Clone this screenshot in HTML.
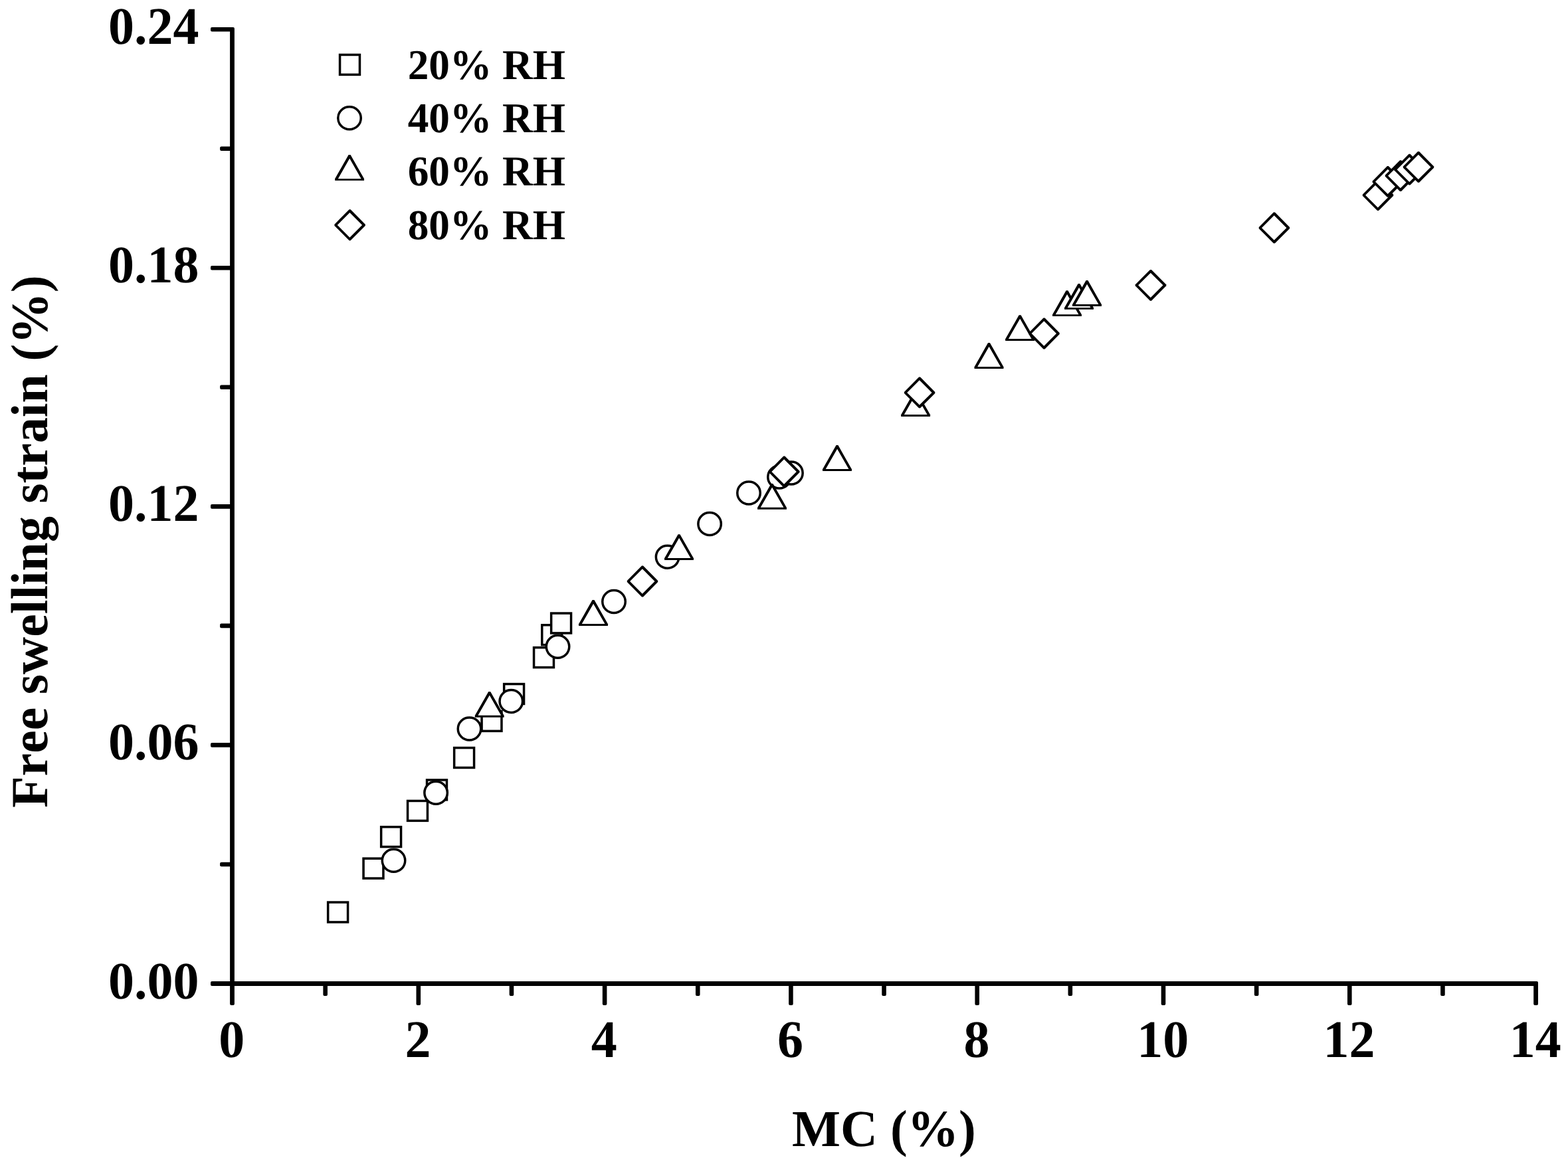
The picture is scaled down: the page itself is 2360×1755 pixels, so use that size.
<!DOCTYPE html>
<html lang="en"><head><meta charset="utf-8"><title>Free swelling strain vs MC</title>
<style>
html,body{margin:0;padding:0;background:#fff;}
body{width:2360px;height:1755px;overflow:hidden;}
svg{display:block;}
text{font-family:"Liberation Serif","Times New Roman",Times,serif;font-weight:bold;fill:#000;white-space:pre;font-kerning:none;font-variant-ligatures:none;text-rendering:geometricPrecision;}
.sq{fill:#fff;stroke:#000;stroke-width:3.5;}.ci{fill:#fff;stroke:#000;stroke-width:3.5;}.k{fill:#000;}.w{fill:#fff;}
.tl{font-size:78px;}
.xt{font-size:77.3px;}
.yt{font-size:77.8px;}
.lg{font-size:63.3px;}
</style></head><body>
<svg width="2360" height="1755" viewBox="0 0 2360 1755">
<rect x="0" y="0" width="2360" height="1755" fill="#fff"/>
<g fill="#000">
<rect x="317" y="1477.1" width="1998" height="6.8" rx="2"/>
<rect x="346.1" y="41" width="6.8" height="1472" rx="2"/>
<rect x="486.35" y="1480.5" width="6.6" height="18.4" rx="2"/>
<rect x="626.5" y="1480.5" width="6.6" height="32.5" rx="2"/>
<rect x="766.65" y="1480.5" width="6.6" height="18.4" rx="2"/>
<rect x="906.8" y="1480.5" width="6.6" height="32.5" rx="2"/>
<rect x="1046.95" y="1480.5" width="6.6" height="18.4" rx="2"/>
<rect x="1187.1" y="1480.5" width="6.6" height="32.5" rx="2"/>
<rect x="1327.25" y="1480.5" width="6.6" height="18.4" rx="2"/>
<rect x="1467.4" y="1480.5" width="6.6" height="32.5" rx="2"/>
<rect x="1607.55" y="1480.5" width="6.6" height="18.4" rx="2"/>
<rect x="1747.7" y="1480.5" width="6.6" height="32.5" rx="2"/>
<rect x="1887.85" y="1480.5" width="6.6" height="18.4" rx="2"/>
<rect x="2028" y="1480.5" width="6.6" height="32.5" rx="2"/>
<rect x="2168.15" y="1480.5" width="6.6" height="18.4" rx="2"/>
<rect x="2308.2" y="1480.5" width="6.8" height="32.5" rx="2"/>
<rect x="331.1" y="1297.66" width="18.4" height="6.6" rx="2"/>
<rect x="317" y="1118.12" width="32.5" height="6.6" rx="2"/>
<rect x="331.1" y="938.59" width="18.4" height="6.6" rx="2"/>
<rect x="317" y="759.05" width="32.5" height="6.6" rx="2"/>
<rect x="331.1" y="579.51" width="18.4" height="6.6" rx="2"/>
<rect x="317" y="399.98" width="32.5" height="6.6" rx="2"/>
<rect x="331.1" y="220.44" width="18.4" height="6.6" rx="2"/>
<rect x="317" y="40.9" width="32.5" height="6.6" rx="2"/>
</g>
<g>
<text class="tl" text-anchor="middle" transform="translate(348.7 1590.9) scale(1 1.02)">0</text>
<text class="tl" text-anchor="middle" transform="translate(629 1590.9) scale(1 1.02)">2</text>
<text class="tl" text-anchor="middle" transform="translate(909.3 1590.9) scale(1 1.02)">4</text>
<text class="tl" text-anchor="middle" transform="translate(1189.6 1590.9) scale(1 1.02)">6</text>
<text class="tl" text-anchor="middle" transform="translate(1469.9 1590.9) scale(1 1.02)">8</text>
<text class="tl" text-anchor="middle" transform="translate(1750.2 1590.9) scale(1 1.02)">10</text>
<text class="tl" text-anchor="middle" transform="translate(2030.5 1590.9) scale(1 1.02)">12</text>
<text class="tl" text-anchor="middle" transform="translate(2310.8 1590.9) scale(1 1.02)">14</text>
<text class="tl" text-anchor="end" transform="translate(299.4 1502.5) scale(1 1.02)">0.00</text>
<text class="tl" text-anchor="end" transform="translate(299.4 1143.42) scale(1 1.02)">0.06</text>
<text class="tl" text-anchor="end" transform="translate(299.4 784.35) scale(1 1.02)">0.12</text>
<text class="tl" text-anchor="end" transform="translate(299.4 425.28) scale(1 1.02)">0.18</text>
<text class="tl" text-anchor="end" transform="translate(299.4 66.2) scale(1 1.02)">0.24</text>
</g>
<text class="xt" text-anchor="middle" transform="translate(1330.4 1724.7) scale(1 1.01)">MC (%)</text>
<text class="yt" text-anchor="middle" transform="translate(71 815) rotate(-90) scale(1 1.01)">Free swelling strain (%)</text>
<g>
<rect class="sq" x="511.55" y="82.45" width="29.9" height="29.9"/>
<ellipse class="ci" cx="526" cy="177.8" rx="17.25" ry="17"/>
<polygon class="k" points="524.65,233 527.55,233 548.05,269.1 548.05,271.8 504.15,271.8 504.15,269.1"/><polygon class="w" points="526.2,238.6 543.55,268.9 508.85,268.9"/>
<polygon class="k" points="525.6,315.3 527.6,315.3 549.8,337.7 549.8,339.7 527.6,362.1 525.6,362.1 503.4,339.7 503.4,337.7"/><polygon class="w" points="526.4,320 545.1,338.7 526.4,357.4 507.7,338.7"/>
</g>
<g>
<text class="lg" transform="translate(613.7 118.5) scale(1 1.01)">20% RH</text>
<text class="lg" transform="translate(613.7 198.9) scale(1 1.01)">40% RH</text>
<text class="lg" transform="translate(613.7 279.3) scale(1 1.01)">60% RH</text>
<text class="lg" transform="translate(613.7 359.7) scale(1 1.01)">80% RH</text>
</g>
<g>
<rect class="sq" x="493.65" y="1358.05" width="29.9" height="29.9"/>
<rect class="sq" x="547.05" y="1292.15" width="29.9" height="29.9"/>
<rect class="sq" x="573.65" y="1244.65" width="29.9" height="29.9"/>
<rect class="sq" x="613.55" y="1205.45" width="29.9" height="29.9"/>
<rect class="sq" x="642.55" y="1173.95" width="29.9" height="29.9"/>
<rect class="sq" x="683.65" y="1125.55" width="29.9" height="29.9"/>
<rect class="sq" x="725.05" y="1070.45" width="29.9" height="29.9"/>
<rect class="sq" x="758.65" y="1029.55" width="29.9" height="29.9"/>
<rect class="sq" x="803.55" y="974.65" width="29.9" height="29.9"/>
<rect class="sq" x="815.75" y="940.75" width="29.9" height="29.9"/>
<rect class="sq" x="829.65" y="923.05" width="29.9" height="29.9"/>
<ellipse class="ci" cx="592.5" cy="1295.2" rx="17.25" ry="17"/>
<ellipse class="ci" cx="656.1" cy="1193.2" rx="17.25" ry="17"/>
<ellipse class="ci" cx="706.5" cy="1097" rx="17.25" ry="17"/>
<ellipse class="ci" cx="769.3" cy="1055.4" rx="17.25" ry="17"/>
<ellipse class="ci" cx="839.5" cy="973.3" rx="17.25" ry="17"/>
<ellipse class="ci" cx="924" cy="905.5" rx="17.25" ry="17"/>
<ellipse class="ci" cx="1004.6" cy="838.2" rx="17.25" ry="17"/>
<ellipse class="ci" cx="1068.1" cy="788.4" rx="17.25" ry="17"/>
<ellipse class="ci" cx="1127" cy="741.9" rx="17.25" ry="17"/>
<ellipse class="ci" cx="1173" cy="717.9" rx="17.25" ry="17"/>
<ellipse class="ci" cx="1190.9" cy="711.9" rx="17.25" ry="17"/>
<polygon class="k" points="735.25,1040.9 738.15,1040.9 758.65,1077 758.65,1079.7 714.75,1079.7 714.75,1077"/><polygon class="w" points="736.8,1046.5 754.15,1076.8 719.45,1076.8"/>
<polygon class="k" points="891.55,903.1 894.45,903.1 914.95,939.2 914.95,941.9 871.05,941.9 871.05,939.2"/><polygon class="w" points="893.1,908.7 910.45,939 875.75,939"/>
<polygon class="k" points="1020.55,804.2 1023.45,804.2 1043.95,840.3 1043.95,843 1000.05,843 1000.05,840.3"/><polygon class="w" points="1022.1,809.8 1039.45,840.1 1004.75,840.1"/>
<polygon class="k" points="1160.55,727.95 1163.45,727.95 1183.95,764.05 1183.95,766.75 1140.05,766.75 1140.05,764.05"/><polygon class="w" points="1162.1,733.55 1179.45,763.85 1144.75,763.85"/>
<polygon class="k" points="1258.55,670.1 1261.45,670.1 1281.95,706.2 1281.95,708.9 1238.05,708.9 1238.05,706.2"/><polygon class="w" points="1260.1,675.7 1277.45,706 1242.75,706"/>
<polygon class="k" points="1376.65,588.2 1379.55,588.2 1400.05,624.3 1400.05,627 1356.15,627 1356.15,624.3"/><polygon class="w" points="1378.2,593.8 1395.55,624.1 1360.85,624.1"/>
<polygon class="k" points="1487.05,516.1 1489.95,516.1 1510.45,552.2 1510.45,554.9 1466.55,554.9 1466.55,552.2"/><polygon class="w" points="1488.6,521.7 1505.95,552 1471.25,552"/>
<polygon class="k" points="1533.65,474.2 1536.55,474.2 1557.05,510.3 1557.05,513 1513.15,513 1513.15,510.3"/><polygon class="w" points="1535.2,479.8 1552.55,510.1 1517.85,510.1"/>
<polygon class="k" points="1604.55,437.3 1607.45,437.3 1627.95,473.4 1627.95,476.1 1584.05,476.1 1584.05,473.4"/><polygon class="w" points="1606.1,442.9 1623.45,473.2 1588.75,473.2"/>
<polygon class="k" points="1622.55,427.05 1625.45,427.05 1645.95,463.15 1645.95,465.85 1602.05,465.85 1602.05,463.15"/><polygon class="w" points="1624.1,432.65 1641.45,462.95 1606.75,462.95"/>
<polygon class="k" points="1634.55,422.1 1637.45,422.1 1657.95,458.2 1657.95,460.9 1614.05,460.9 1614.05,458.2"/><polygon class="w" points="1636.1,427.7 1653.45,458 1618.75,458"/>
<polygon class="k" points="966,851.6 968,851.6 990.2,874 990.2,876 968,898.4 966,898.4 943.8,876 943.8,874"/><polygon class="w" points="966.8,856.3 985.5,875 966.8,893.7 948.1,875"/>
<polygon class="k" points="1179.3,686.6 1181.3,686.6 1203.5,709 1203.5,711 1181.3,733.4 1179.3,733.4 1157.1,711 1157.1,709"/><polygon class="w" points="1180.1,691.3 1198.8,710 1180.1,728.7 1161.4,710"/>
<polygon class="k" points="1383.1,567.5 1385.1,567.5 1407.3,589.9 1407.3,591.9 1385.1,614.3 1383.1,614.3 1360.9,591.9 1360.9,589.9"/><polygon class="w" points="1383.9,572.2 1402.6,590.9 1383.9,609.6 1365.2,590.9"/>
<polygon class="k" points="1570.5,478.6 1572.5,478.6 1594.7,501 1594.7,503 1572.5,525.4 1570.5,525.4 1548.3,503 1548.3,501"/><polygon class="w" points="1571.3,483.3 1590,502 1571.3,520.7 1552.6,502"/>
<polygon class="k" points="1731,405.95 1733,405.95 1755.2,428.35 1755.2,430.35 1733,452.75 1731,452.75 1708.8,430.35 1708.8,428.35"/><polygon class="w" points="1731.8,410.65 1750.5,429.35 1731.8,448.05 1713.1,429.35"/>
<polygon class="k" points="1916.9,319.5 1918.9,319.5 1941.1,341.9 1941.1,343.9 1918.9,366.3 1916.9,366.3 1894.7,343.9 1894.7,341.9"/><polygon class="w" points="1917.7,324.2 1936.4,342.9 1917.7,361.6 1899,342.9"/>
<polygon class="k" points="2073,270.3 2075,270.3 2097.2,292.7 2097.2,294.7 2075,317.1 2073,317.1 2050.8,294.7 2050.8,292.7"/><polygon class="w" points="2073.8,275 2092.5,293.7 2073.8,312.4 2055.1,293.7"/>
<polygon class="k" points="2087.9,250 2089.9,250 2112.1,272.4 2112.1,274.4 2089.9,296.8 2087.9,296.8 2065.7,274.4 2065.7,272.4"/><polygon class="w" points="2088.7,254.7 2107.4,273.4 2088.7,292.1 2070,273.4"/>
<polygon class="k" points="2107,241.2 2109,241.2 2131.2,263.6 2131.2,265.6 2109,288 2107,288 2084.8,265.6 2084.8,263.6"/><polygon class="w" points="2107.8,245.9 2126.5,264.6 2107.8,283.3 2089.1,264.6"/>
<polygon class="k" points="2120.5,231.8 2122.5,231.8 2144.7,254.2 2144.7,256.2 2122.5,278.6 2120.5,278.6 2098.3,256.2 2098.3,254.2"/><polygon class="w" points="2121.3,236.5 2140,255.2 2121.3,273.9 2102.6,255.2"/>
<polygon class="k" points="2134,228 2136,228 2158.2,250.4 2158.2,252.4 2136,274.8 2134,274.8 2111.8,252.4 2111.8,250.4"/><polygon class="w" points="2134.8,232.7 2153.5,251.4 2134.8,270.1 2116.1,251.4"/>
</g>
</svg>
</body></html>
